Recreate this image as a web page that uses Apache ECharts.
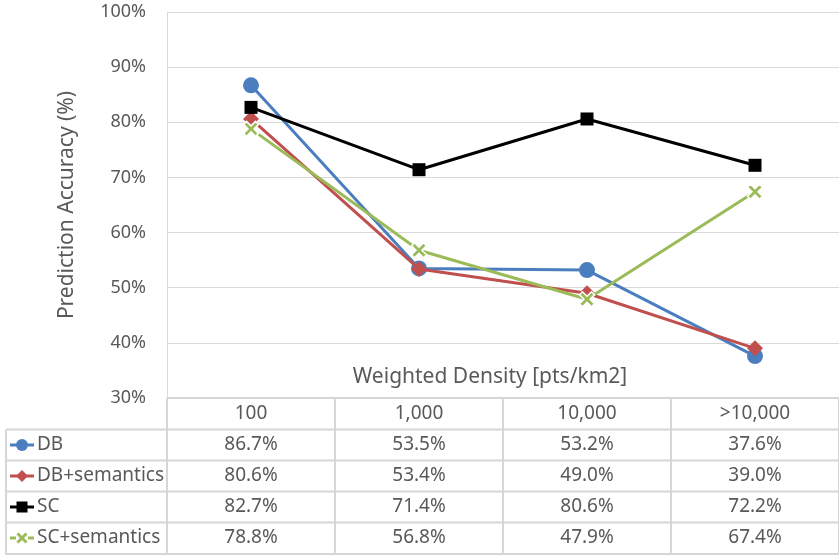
<!DOCTYPE html>
<html>
<head>
<meta charset="utf-8">
<script src="https://cdn.jsdelivr.net/npm/echarts@6/dist/echarts.min.js"></script>
<style>
html, body { margin: 0; padding: 0; background: #fff; }
#chart { width: 839px; height: 555px; }
</style>
</head>
<body>
<div id="chart"></div>
<script>
// Density classes on the x axis
const categories = ['100', '1,000', '10,000', '>10,000'];
// Series names
const seriesNames = ['DB', 'DB+semantics', 'SC', 'SC+semantics'];
// Prediction accuracy (%) per density class
const dbValues = [86.7, 53.5, 53.2, 37.6];
const dbSemValues = [80.6, 53.4, 49.0, 39.0];
const scValues = [82.7, 71.4, 80.6, 72.2];
const scSemValues = [78.8, 56.8, 47.9, 67.4];
// Y axis range
const yMin = 30, yMax = 100, yStep = 10;

const allValues = [dbValues, dbSemValues, scValues, scSemValues];
const colors = ['#4a7ebf', '#c0504d', '#000000', '#9bbb59'];
const crossPath = 'path://M0,2 L2,0 L5,3 L8,0 L10,2 L7,5 L10,8 L8,10 L5,7 L2,10 L0,8 L3,5 Z';
const symbols = ['circle', 'diamond', 'rect', crossPath];
const symbolSizes = [16, 16, 13, 15];
const FONT = '"Noto Sans", "Open Sans", sans-serif';
const TXT = '#595959';
const GRID_LINE = '#d9d9d9';
const TABLE_LINE = '#d6d6d6';

const chart = echarts.init(document.getElementById('chart'), null, { renderer: 'canvas' });

const series = allValues.map((vals, i) => ({
  name: seriesNames[i],
  type: 'line',
  data: vals,
  symbol: symbols[i],
  symbolSize: symbolSizes[i],
  lineStyle: { color: colors[i], width: 3 },
  itemStyle: i === 3
    ? { color: colors[i], borderColor: '#ffffff', borderWidth: 1.5 }
    : { color: colors[i] },
  z: 2 + i,
  animation: false
}));

chart.setOption({
  animation: false,
  backgroundColor: '#ffffff',
  grid: { left: 167, right: 0, top: 12, bottom: 157, containLabel: false },
  xAxis: {
    type: 'category',
    data: categories,
    boundaryGap: true,
    axisLine: { show: false },
    axisTick: { show: false },
    axisLabel: { show: false },
    splitLine: { show: false }
  },
  yAxis: {
    type: 'value',
    min: yMin, max: yMax, interval: yStep,
    axisLine: { show: true, lineStyle: { color: GRID_LINE, width: 1 } },
    axisTick: { show: false },
    axisLabel: {
      formatter: '{value}%', color: TXT, fontSize: 18, fontFamily: FONT, margin: 21
    },
    splitLine: { show: true, lineStyle: { color: GRID_LINE, width: 1 } },
    name: 'Prediction Accuracy (%)',
    nameLocation: 'middle',
    nameGap: 89,
    nameRotate: 90,
    nameTextStyle: { color: TXT, fontSize: 21, fontFamily: FONT }
  },
  series: series
});

// Data table under the plot, built from the same arrays
function buildTable() {
  const xs = categories.map(c => chart.convertToPixel({ xAxisIndex: 0 }, c));
  const yBase = chart.convertToPixel({ yAxisIndex: 0 }, yMin);
  const gridLeft = 167, right = 839, tableLeft = 6, bottom = 555;
  const colW = xs.length > 1 ? xs[1] - xs[0] : 168;
  const headerH = 31.5;
  const rowH = 31;
  const rowTops = [yBase + headerH];
  for (let i = 1; i < seriesNames.length; i++) rowTops.push(rowTops[0] + rowH * i);

  const els = [];
  const line = (x1, y1, x2, y2) => els.push({
    type: 'line', silent: true, z: 1,
    shape: { x1, y1, x2, y2 },
    style: { stroke: TABLE_LINE, lineWidth: 2 }
  });
  const text = (x, y, t, align) => els.push({
    type: 'text', silent: true, z: 10, x, y,
    style: { text: t, fill: TXT, font: '19px ' + FONT, align: align || 'center', verticalAlign: 'middle' }
  });

  // header row top line
  line(gridLeft, yBase, right, yBase);
  // row separators
  rowTops.forEach(t => line(tableLeft, t, right, t));
  line(tableLeft, bottom - 1, right, bottom - 1);
  // vertical lines
  line(tableLeft, rowTops[0], tableLeft, bottom);
  line(gridLeft, yBase, gridLeft, bottom);
  xs.forEach(x => line(x + colW / 2, yBase, x + colW / 2, bottom));

  // x axis title above the table
  els.push({
    type: 'text', silent: true, z: 10,
    x: (gridLeft + right) / 2 - 13, y: yBase - 21,
    style: { text: 'Weighted Density [pts/km2]', fill: TXT, font: '21px ' + FONT, align: 'center', verticalAlign: 'middle' }
  });

  // header labels
  categories.forEach((c, j) => text(xs[j], yBase + headerH / 2, c));

  // rows
  seriesNames.forEach((name, i) => {
    const cy = rowTops[i] + rowH / 2;
    // legend key: line + marker
    els.push({
      type: 'line', silent: true, z: 5,
      shape: { x1: 10, y1: cy, x2: 34, y2: cy },
      style: { stroke: colors[i], lineWidth: 3 }
    });
    const mx = 22;
    if (i === 0) {
      els.push({ type: 'circle', silent: true, z: 6, shape: { cx: mx, cy, r: 6 }, style: { fill: colors[i] } });
    } else if (i === 1) {
      els.push({ type: 'polygon', silent: true, z: 6,
        shape: { points: [[mx, cy - 6], [mx + 6, cy], [mx, cy + 6], [mx - 6, cy]] }, style: { fill: colors[i] } });
    } else if (i === 2) {
      els.push({ type: 'rect', silent: true, z: 6, shape: { x: mx - 5.5, y: cy - 5.5, width: 11, height: 11 }, style: { fill: colors[i] } });
    } else {
      els.push({ type: 'rect', silent: true, z: 6, shape: { x: mx - 6, y: cy - 6, width: 12, height: 12 }, style: { fill: '#ffffff' } });
      els.push({ type: 'line', silent: true, z: 7, shape: { x1: mx - 4.5, y1: cy - 4.5, x2: mx + 4.5, y2: cy + 4.5 }, style: { stroke: colors[i], lineWidth: 3 } });
      els.push({ type: 'line', silent: true, z: 7, shape: { x1: mx + 4.5, y1: cy - 4.5, x2: mx - 4.5, y2: cy + 4.5 }, style: { stroke: colors[i], lineWidth: 3 } });
    }
    text(37, cy, name, 'left');
    allValues[i].forEach((v, j) => text(xs[j], cy, v.toFixed(1) + '%'));
  });

  chart.setOption({ graphic: { elements: els } });
}
buildTable();
</script>
</body>
</html>
